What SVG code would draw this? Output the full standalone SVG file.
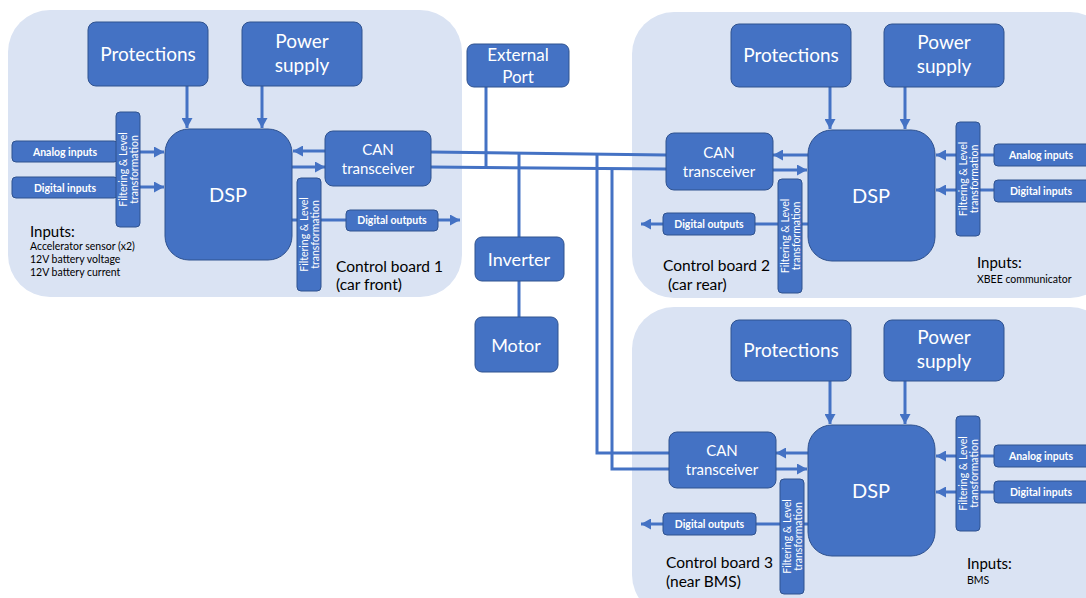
<svg xmlns="http://www.w3.org/2000/svg" width="1086" height="598" viewBox="0 0 1086 598">
<defs>
<marker id="ah" markerUnits="userSpaceOnUse" markerWidth="11" markerHeight="11" refX="10" refY="5.5" orient="auto">
<path d="M0,0 L10,5.5 L0,11 z" fill="#4472c4"/>
</marker>
<style>
.board{fill:#dae3f3;}
.box{fill:#4472c4;stroke:#2f528f;stroke-width:1;}
.t{font-family:Lato,"Liberation Sans",sans-serif;fill:#ffffff;text-anchor:middle;}
.big{font-size:19px;}
.mid{font-size:15px;}
.sm{font-size:10.5px;font-weight:bold;}
.fl{font-size:10.5px;}
.lbl{font-family:Lato,"Liberation Sans",sans-serif;fill:#000000;}
.cb{font-size:15.5px;}
.inp{font-size:10.5px;}
.c{stroke:#4472c4;stroke-width:3;fill:none;}
.a{stroke:#4472c4;stroke-width:3;fill:none;marker-end:url(#ah);}
</style>
</defs>
<rect width="1086" height="598" fill="#ffffff"/>
<g id="boards">
<rect class="board" x="8" y="10" width="454" height="287" rx="42"/>
<rect class="board" x="632" y="12" width="480" height="286" rx="42"/>
<rect class="board" x="632" y="307" width="480" height="310" rx="42"/>
</g>
<g id="connectors">
<line class="a" x1="187" y1="86" x2="187" y2="128"/>
<line class="a" x1="262" y1="86" x2="262" y2="128"/>
<line class="a" x1="118" y1="152" x2="164" y2="152"/>
<line class="a" x1="118" y1="187" x2="164" y2="187"/>
<line class="a" x1="325" y1="151" x2="293" y2="151"/>
<line class="a" x1="292" y1="167" x2="325" y2="167"/>
<line class="c" x1="292" y1="220" x2="346" y2="220"/>
<line class="a" x1="438" y1="220" x2="460" y2="220"/>
<line class="c" x1="431" y1="152" x2="666" y2="155"/>
<line class="c" x1="431" y1="167" x2="666" y2="169"/>
<line class="c" x1="486" y1="87" x2="486" y2="167"/>
<line class="c" x1="519" y1="153" x2="519" y2="237"/>
<line class="c" x1="519" y1="281" x2="519" y2="317"/>
<polyline class="c" points="597,155 597,453 669,453"/>
<polyline class="c" points="612,168 612,469 669,469"/>
<line class="a" x1="830" y1="87" x2="830" y2="129"/>
<line class="a" x1="905" y1="87" x2="905" y2="129"/>
<line class="a" x1="808" y1="155" x2="773" y2="155"/>
<line class="a" x1="773" y1="170" x2="807" y2="170"/>
<line class="c" x1="808" y1="224" x2="755" y2="224"/>
<line class="a" x1="663" y1="224" x2="641" y2="224"/>
<line class="a" x1="994" y1="155" x2="936" y2="155"/>
<line class="a" x1="994" y1="190" x2="936" y2="190"/>
<line class="a" x1="830" y1="381" x2="830" y2="424"/>
<line class="a" x1="905" y1="381" x2="905" y2="424"/>
<line class="a" x1="808" y1="453" x2="776" y2="453"/>
<line class="a" x1="776" y1="469" x2="807" y2="469"/>
<line class="c" x1="808" y1="524" x2="756" y2="524"/>
<line class="a" x1="663" y1="524" x2="641" y2="524"/>
<line class="a" x1="994" y1="456" x2="936" y2="456"/>
<line class="a" x1="994" y1="492" x2="936" y2="492"/>
</g>
<!-- Board 1 -->
<g id="b1-protections"><rect class="box" x="88" y="22" width="120" height="64" rx="8"/><text class="t big" x="148" y="61">Protections</text></g>
<g id="b1-power"><rect class="box" x="242" y="22" width="120" height="64" rx="8"/><text class="t big" x="302" y="48">Power</text><text class="t big" x="302" y="72">supply</text></g>
<g id="b1-dsp"><rect class="box" x="165" y="129" width="127" height="131" rx="24"/><text class="t" style="font-size:20px" x="228" y="202">DSP</text></g>
<g id="b1-analog"><rect class="box" x="12" y="141" width="106" height="21" rx="4"/><text class="t sm" x="65" y="155.5">Analog inputs</text></g>
<g id="b1-digital"><rect class="box" x="12" y="177" width="106" height="21" rx="4"/><text class="t sm" x="65" y="191.5">Digital inputs</text></g>
<g id="b1-filter-in"><rect class="box" x="116" y="112" width="24" height="115" rx="4"/><g transform="translate(128,169.5) rotate(-90)"><text class="t fl" x="0" y="-1.5">Filtering &amp; Level</text><text class="t fl" x="0" y="9.5">transformation</text></g></g>
<g id="b1-can"><rect class="box" x="325" y="131" width="106" height="55" rx="8"/><text class="t mid" x="378" y="155">CAN</text><text class="t mid" x="378" y="174">transceiver</text></g>
<g id="b1-filter-out"><rect class="box" x="297" y="178" width="24" height="113" rx="4"/><g transform="translate(309,234.5) rotate(-90)"><text class="t fl" x="0" y="-1.5">Filtering &amp; Level</text><text class="t fl" x="0" y="9.5">transformation</text></g></g>
<g id="b1-digout"><rect class="box" x="346" y="210" width="92" height="21" rx="4"/><text class="t sm" x="392" y="224">Digital outputs</text></g>
<g id="b1-labels">
<text class="lbl" style="font-size:15px" x="30" y="237">Inputs:</text>
<text class="lbl inp" x="30" y="250">Accelerator sensor (x2)</text>
<text class="lbl inp" x="30" y="263">12V battery voltage</text>
<text class="lbl inp" x="30" y="276">12V battery current</text>
<text class="lbl cb" x="336" y="272">Control board 1</text>
<text class="lbl cb" x="336" y="290">(car front)</text>
</g>
<!-- Middle -->
<g id="external-port"><rect class="box" x="467" y="44" width="102" height="43" rx="7"/><text class="t" style="font-size:17px" x="518" y="61">External</text><text class="t" style="font-size:17px" x="518" y="83">Port</text></g>
<g id="inverter"><rect class="box" x="475" y="237" width="89" height="44" rx="7"/><text class="t" style="font-size:18px" x="519" y="266">Inverter</text></g>
<g id="motor"><rect class="box" x="475" y="317" width="83" height="55" rx="7"/><text class="t" style="font-size:18px" x="516" y="352">Motor</text></g>
<!-- Board 2 -->
<g id="b2-protections"><rect class="box" x="731" y="24" width="120" height="63" rx="8"/><text class="t big" x="791" y="62">Protections</text></g>
<g id="b2-power"><rect class="box" x="884" y="24" width="120" height="63" rx="8"/><text class="t big" x="944" y="49">Power</text><text class="t big" x="944" y="73">supply</text></g>
<g id="b2-dsp"><rect class="box" x="808" y="130" width="127" height="131" rx="24"/><text class="t" style="font-size:20px" x="871" y="203">DSP</text></g>
<g id="b2-can"><rect class="box" x="666" y="133" width="107" height="57" rx="8"/><text class="t mid" x="719" y="158">CAN</text><text class="t mid" x="719" y="177">transceiver</text></g>
<g id="b2-filter-out"><rect class="box" x="778" y="179" width="24" height="114" rx="4"/><g transform="translate(790,236) rotate(-90)"><text class="t fl" x="0" y="-1.5">Filtering &amp; Level</text><text class="t fl" x="0" y="9.5">transformation</text></g></g>
<g id="b2-digout"><rect class="box" x="663" y="213" width="92" height="22" rx="4"/><text class="t sm" x="709" y="228">Digital outputs</text></g>
<g id="b2-filter-in"><rect class="box" x="956" y="122" width="24" height="114" rx="4"/><g transform="translate(968,179) rotate(-90)"><text class="t fl" x="0" y="-1.5">Filtering &amp; Level</text><text class="t fl" x="0" y="9.5">transformation</text></g></g>
<g id="b2-analog"><rect class="box" x="994" y="144" width="100" height="22" rx="4"/><text class="t sm" x="1041" y="159">Analog inputs</text></g>
<g id="b2-digital"><rect class="box" x="994" y="180" width="100" height="22" rx="4"/><text class="t sm" x="1041" y="195">Digital inputs</text></g>
<g id="b2-labels">
<text class="lbl" style="font-size:15px" x="977" y="268">Inputs:</text>
<text class="lbl inp" x="977" y="283">XBEE communicator</text>
<text class="lbl cb" x="663" y="271">Control board 2</text>
<text class="lbl cb" x="668" y="290">(car rear)</text>
</g>
<!-- Board 3 -->
<g id="b3-protections"><rect class="box" x="731" y="320" width="120" height="61" rx="8"/><text class="t big" x="791" y="357">Protections</text></g>
<g id="b3-power"><rect class="box" x="884" y="320" width="120" height="61" rx="8"/><text class="t big" x="944" y="344">Power</text><text class="t big" x="944" y="368">supply</text></g>
<g id="b3-dsp"><rect class="box" x="808" y="425" width="127" height="131" rx="24"/><text class="t" style="font-size:20px" x="871" y="498">DSP</text></g>
<g id="b3-can"><rect class="box" x="669" y="432" width="107" height="56" rx="8"/><text class="t mid" x="722" y="456">CAN</text><text class="t mid" x="722" y="475">transceiver</text></g>
<g id="b3-filter-out"><rect class="box" x="780" y="479" width="24" height="115" rx="4"/><g transform="translate(792,536.5) rotate(-90)"><text class="t fl" x="0" y="-1.5">Filtering &amp; Level</text><text class="t fl" x="0" y="9.5">transformation</text></g></g>
<g id="b3-digout"><rect class="box" x="663" y="513" width="93" height="22" rx="4"/><text class="t sm" x="709.5" y="528">Digital outputs</text></g>
<g id="b3-filter-in"><rect class="box" x="956" y="416" width="24" height="115" rx="4"/><g transform="translate(968,473.5) rotate(-90)"><text class="t fl" x="0" y="-1.5">Filtering &amp; Level</text><text class="t fl" x="0" y="9.5">transformation</text></g></g>
<g id="b3-analog"><rect class="box" x="994" y="445" width="100" height="22" rx="4"/><text class="t sm" x="1041" y="460">Analog inputs</text></g>
<g id="b3-digital"><rect class="box" x="994" y="481" width="100" height="22" rx="4"/><text class="t sm" x="1041" y="496">Digital inputs</text></g>
<g id="b3-labels">
<text class="lbl" style="font-size:15px" x="967" y="569">Inputs:</text>
<text class="lbl inp" x="967" y="584">BMS</text>
<text class="lbl cb" x="666" y="568">Control board 3</text>
<text class="lbl cb" x="666" y="587">(near BMS)</text>
</g>
</svg>
